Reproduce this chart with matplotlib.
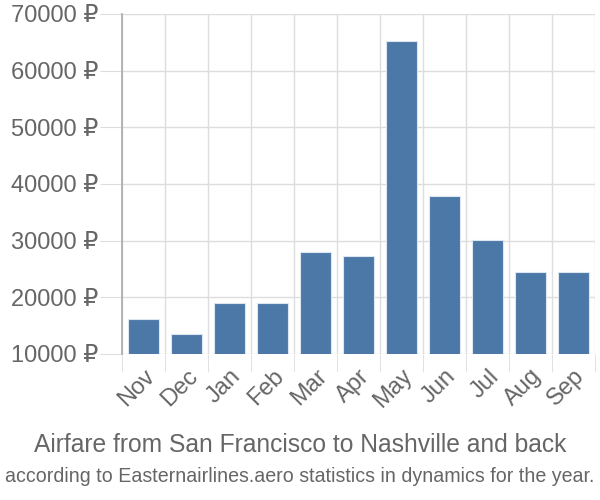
import matplotlib
matplotlib.use("Agg")
import matplotlib.pyplot as plt
import numpy as np

plt.rcParams['font.family'] = ['Liberation Sans', 'DejaVu Sans']

months = ["Nov", "Dec", "Jan", "Feb", "Mar", "Apr", "May", "Jun", "Jul", "Aug", "Sep"]
prices = [16200, 13500, 19000, 19000, 27950, 27300, 65300, 37900, 30100, 24500, 24500]
yticks = [10000, 20000, 30000, 40000, 50000, 60000, 70000]
ytick_labels = [f"{v} ₽" for v in yticks]

fig = plt.figure(figsize=(6, 5), dpi=100)
ax = fig.add_axes([122/600, 1-354/500, 473/600, 340/500])

x = np.arange(len(months))
ax.bar(x, prices, width=0.72, color="#4c78a8", edgecolor="#dde6f0", linewidth=0.8, zorder=3)
ax.set_xlim(-0.5, len(months) - 0.5)
ax.set_ylim(10000, 70000)

ax.set_yticks(yticks)
ax.set_yticklabels(ytick_labels)
ax.set_xticks(x)
ax.set_xticklabels(months, rotation=45, ha="right", rotation_mode="anchor")

ax.set_xticks(np.arange(-0.5, len(months), 1), minor=True)
ax.grid(True, which="minor", axis="x", color="#dddddd", linewidth=1, zorder=0)
ax.grid(True, which="major", axis="y", color="#dddddd", linewidth=1, zorder=0)

ax.tick_params(axis="y", which="major", length=16, color="#dddddd", labelsize=17,
               labelcolor="#666666", pad=1)
ax.tick_params(axis="x", which="major", length=0, labelsize=17, labelcolor="#666666", pad=8)
ax.tick_params(axis="x", which="minor", length=13, color="#dddddd")

for s in ["top", "right", "bottom"]:
    ax.spines[s].set_visible(False)
ax.spines["left"].set_color("#aaaaaa")
ax.spines["left"].set_linewidth(1.2)

fig.text(0.5, 1-445/500, "Airfare from San Francisco to Nashville and back", ha="center",
         va="center", fontsize=17.7, color="#666666")
fig.text(0.5, 1-476/500, "according to Easternairlines.aero statistics in dynamics for the year.",
         ha="center", va="center", fontsize=14.1, color="#666666")

fig.savefig("out.png", dpi=100)
